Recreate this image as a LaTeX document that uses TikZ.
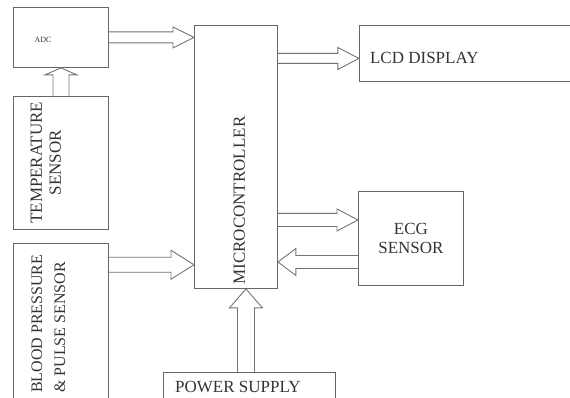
\documentclass[tikz,border=0pt]{standalone}
\usepackage{fontspec}
\setmainfont{Liberation Serif}
\usetikzlibrary{positioning,calc}

% hollow block arrow: from, to, shaft half width, head half width, head length
\newcommand{\hollowarrow}[5]{%
  \draw[fat] let \p1=(#1), \p2=(#2),
    \n1={atan2(\y2-\y1,\x2-\x1)}, \n2={veclen(\x2-\x1,\y2-\y1)} in
    [shift={(\p1)}, rotate=\n1]
    (0,-#3) -- ({\n2-#5},-#3) -- ({\n2-#5},-#4) -- (\n2,0)
    -- ({\n2-#5},#4) -- ({\n2-#5},#3) -- (0,#3);
}

\begin{document}
\begin{tikzpicture}[
  x=1pt, y=-1pt,
  node distance=28pt and 81pt,
  blk/.style={rectangle, draw=black!60, line width=0.9pt, inner sep=0pt,
              font=\fontsize{17}{19}\selectfont, text=black!80, align=center},
  lbl/.style={inner sep=0pt, font=\fontsize{17}{19}\selectfont, text=black!80},
  fat/.style={draw=black!55, line width=0.9pt, line join=miter},
]
  \useasboundingbox (0,0) rectangle (570,398);
  \clip (0,0) rectangle (570,398);

  \node[blk, minimum width=95pt, minimum height=60pt, anchor=north west] (adc) at (13,7) {};
  \node[blk, minimum width=95pt, minimum height=133pt, below=of adc] (temp) {};
  \node[blk, minimum width=95pt, minimum height=158pt, below=13pt of temp] (bp) {};
  \node[blk, minimum width=83pt, minimum height=263pt, anchor=north west] (mc) at (194,25) {};
  \node[blk, minimum width=217pt, minimum height=56pt, right=of mc.north east, anchor=north west] (lcd) {};
  \node[blk, minimum width=105pt, minimum height=94pt, anchor=north west] (ecg) at (358,191) {ECG\\SENSOR};
  \node[blk, minimum width=172pt, minimum height=30pt, anchor=north west] (pwr) at (163,372) {};

  \node[lbl, font=\fontsize{8}{9}\selectfont] (adclbl) at ([xshift=-18pt, yshift=-2pt]adc.center) {ADC};
  \node[lbl, rotate=90, align=center] (templbl) at ([xshift=-15pt]temp.center) {TEMPERATURE\\SENSOR};
  \node[lbl, rotate=90, align=left, anchor=west, font=\fontsize{16}{23}\selectfont] (bplbl) at (48.5,393) {BLOOD PRESSURE\\\& PULSE SENSOR};
  \node[lbl, rotate=90, anchor=west] (mclbl) at ([xshift=3.5pt, yshift=4pt]mc.south) {MICROCONTROLLER};
  \node[lbl, anchor=west] (lcdlbl) at ([xshift=11pt, yshift=-5pt]lcd.west) {LCD DISPLAY};
  \node[lbl, anchor=west] (pwrlbl) at ([xshift=12pt, yshift=-15pt]pwr.north west) {POWER SUPPLY};

  \coordinate (bpout) at ([yshift=57.5pt]bp.east);
  \coordinate (pwrout) at ([xshift=-3.5pt]pwr.north);
  \coordinate (lcdin) at ([yshift=-5pt]lcd.west);
  \coordinate (ecgin) at ([yshift=18.5pt]ecg.west);
  \coordinate (ecgout) at ([yshift=-23.5pt]ecg.west);

  \hollowarrow{temp.north}{adc.south}{8}{16}{7}
  \hollowarrow{adc.east}{mc.west |- adc.east}{5.5}{10.5}{21}
  \hollowarrow{bpout}{mc.west |- bpout}{7.5}{14.5}{23}
  \hollowarrow{pwrout}{mc.south -| pwrout}{8.5}{16.5}{19}
  \hollowarrow{mc.east |- lcdin}{lcdin}{5}{11}{21}
  \hollowarrow{mc.east |- ecgin}{ecgin}{6.5}{11}{21}
  \hollowarrow{ecgout}{mc.east |- ecgout}{6.5}{13.5}{18}
\end{tikzpicture}
\end{document}
